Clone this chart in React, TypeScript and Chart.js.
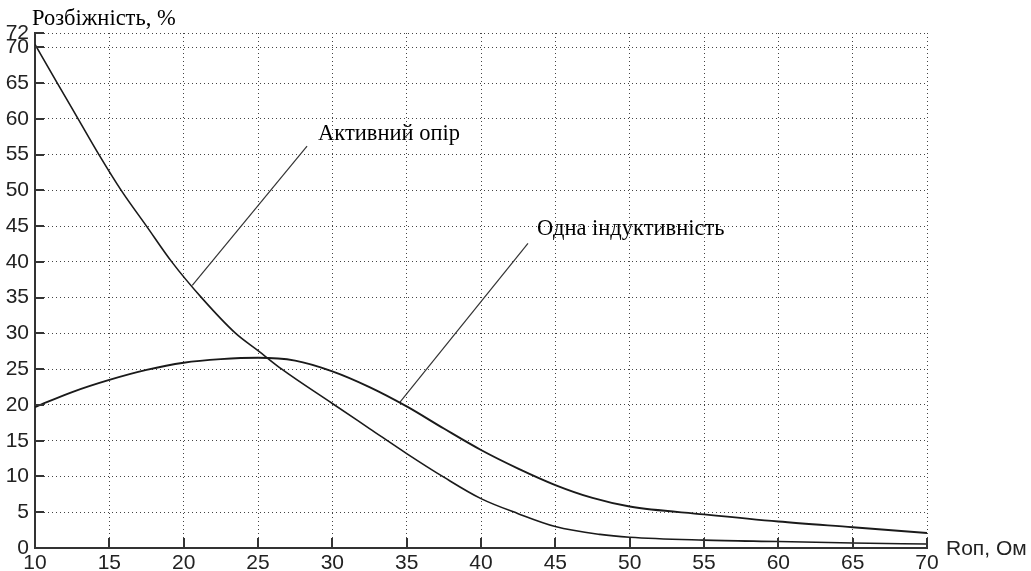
import { useEffect, useRef } from "react";
import { Chart, registerables } from "chart.js";

Chart.register(...registerables);

// Axis ticks
const xTicks = [10, 15, 20, 25, 30, 35, 40, 45, 50, 55, 60, 65, 70];
const yTicks = [0, 5, 10, 15, 20, 25, 30, 35, 40, 45, 50, 55, 60, 65, 70, 72];

// "Активний опір" curve: load resistance (Ом) vs. discrepancy (%)
const activeR = [10, 11.5, 12.9, 14.3, 15.8, 17.5, 19.2, 21.2, 23.5, 25, 26.6, 30, 32.5, 35, 37.5, 40, 42.5, 45, 48, 50, 55, 60, 65, 70];
const activeDiff = [70.4, 65, 60, 55, 50, 45, 40, 35, 30, 27.6, 25, 20.2, 16.7, 13.2, 9.9, 6.9, 4.8, 3.0, 1.9, 1.5, 1.1, 0.9, 0.7, 0.55];

// "Одна індуктивність" curve
const inductR = [10, 12.5, 15, 17.5, 20, 22.5, 25, 27.5, 30, 32.5, 35, 37.5, 40, 42.5, 45, 47.5, 50, 55, 60, 65, 70];
const inductDiff = [19.7, 21.8, 23.5, 24.9, 25.9, 26.4, 26.6, 26.2, 24.7, 22.5, 19.8, 16.7, 13.7, 11.1, 8.8, 7.0, 5.8, 4.7, 3.7, 2.9, 2.1];

// Leader lines from each curve to its caption: [start, end] as [R, %]
const activeLeader = [[20.58, 36.7], [28.3, 56.2]];
const inductLeader = [[34.55, 20.4], [43.16, 42.6]];

const activeLabel = "Активний опір";
const inductLabel = "Одна індуктивність";
const yTitle = "Розбіжність, %";
const xTitle = "Rоп, Ом";

const toPoints = (xs: number[], ys: number[]) => xs.map((x, i) => ({ x, y: ys[i] }));
const leaderPoints = (seg: number[][]) => seg.map(([x, y]) => ({ x, y }));

const SERIF = '22.5px "Liberation Serif", "Times New Roman", serif';
const SANS = '21px "Liberation Sans", Arial, sans-serif';

const decorations = {
  id: "decorations",
  afterDatasetsDraw(chart: any) {
    const { ctx, chartArea: a, scales } = chart;
    const xs = scales.x;
    const ys = scales.y;
    ctx.save();

    // inward tick marks on the two solid axes
    ctx.strokeStyle = "#333";
    ctx.lineWidth = 2;
    ctx.beginPath();
    xTicks.forEach((v) => {
      const px = Math.round(xs.getPixelForValue(v));
      ctx.moveTo(px, a.bottom);
      ctx.lineTo(px, a.bottom - 10);
    });
    yTicks.forEach((v) => {
      const py = Math.round(ys.getPixelForValue(v));
      ctx.moveTo(a.left, py);
      ctx.lineTo(a.left + 9, py);
    });
    ctx.stroke();

    // captions at the outer ends of the leader lines
    ctx.fillStyle = "#000";
    ctx.font = SERIF;
    ctx.textAlign = "left";
    ctx.textBaseline = "alphabetic";
    const aEnd = activeLeader[1];
    ctx.fillText(activeLabel, xs.getPixelForValue(aEnd[0]) + 11, ys.getPixelForValue(aEnd[1]) - 6);
    const iEnd = inductLeader[1];
    ctx.fillText(inductLabel, xs.getPixelForValue(iEnd[0]) + 9, ys.getPixelForValue(iEnd[1]) - 8);

    // axis titles
    ctx.fillText(yTitle, a.left - 3, a.top - 8);
    ctx.font = SANS;
    ctx.fillStyle = "#222";
    ctx.fillText(xTitle, a.right + 19, a.bottom + 7);

    ctx.restore();
  },
};

export default function App() {
  const canvasRef = useRef<HTMLCanvasElement | null>(null);

  useEffect(() => {
    const canvas = canvasRef.current;
    if (!canvas) return;

    const curve = {
      borderColor: "#1a1a1a",
      borderWidth: 1.6,
      pointRadius: 0,
      cubicInterpolationMode: "monotone" as const,
      fill: false,
    };
    const leader = {
      borderColor: "#333",
      borderWidth: 1.2,
      pointRadius: 0,
      tension: 0,
      fill: false,
    };

    const chart = new Chart(canvas, {
      type: "line",
      data: {
        datasets: [
          { label: activeLabel, data: toPoints(activeR, activeDiff), ...curve },
          { label: inductLabel, data: toPoints(inductR, inductDiff), ...curve, borderWidth: 1.9 },
          { label: "activeLeader", data: leaderPoints(activeLeader), ...leader },
          { label: "inductLeader", data: leaderPoints(inductLeader), ...leader },
        ],
      },
      options: {
        responsive: false,
        animation: false,
        events: [],
        layout: { padding: { top: 33, right: 104, left: 0, bottom: 0 } },
        plugins: {
          legend: { display: false },
          tooltip: { enabled: false },
        },
        scales: {
          x: {
            type: "linear",
            min: 10,
            max: 70,
            afterBuildTicks: (scale: any) => {
              scale.ticks = xTicks.map((value) => ({ value }));
            },
            afterFit: (scale: any) => {
              scale.height = 23;
            },
            ticks: {
              autoSkip: false,
              maxRotation: 0,
              padding: 3,
              color: "#222",
              font: { family: '"Liberation Sans", Arial, sans-serif', size: 21 },
            },
            grid: { color: "#444", lineWidth: 1, drawTicks: false },
            border: { display: true, color: "#333", width: 2, dash: [1, 3] },
          },
          y: {
            type: "linear",
            min: 0,
            max: 72,
            afterBuildTicks: (scale: any) => {
              scale.ticks = yTicks.map((value) => ({ value }));
            },
            afterFit: (scale: any) => {
              scale.width = 35;
            },
            ticks: {
              autoSkip: false,
              padding: 6,
              color: "#222",
              font: { family: '"Liberation Sans", Arial, sans-serif', size: 21 },
            },
            grid: { color: "#444", lineWidth: 1, drawTicks: false },
            border: { display: true, color: "#333", width: 2, dash: [1, 3] },
          },
        },
      },
      plugins: [decorations],
    });

    return () => chart.destroy();
  }, []);

  return (
    <div style={{ position: "absolute", left: 0, top: 0, width: 1031, height: 571, background: "#fff" }}>
      <canvas ref={canvasRef} width={1031} height={571} style={{ display: "block" }} />
    </div>
  );
}
